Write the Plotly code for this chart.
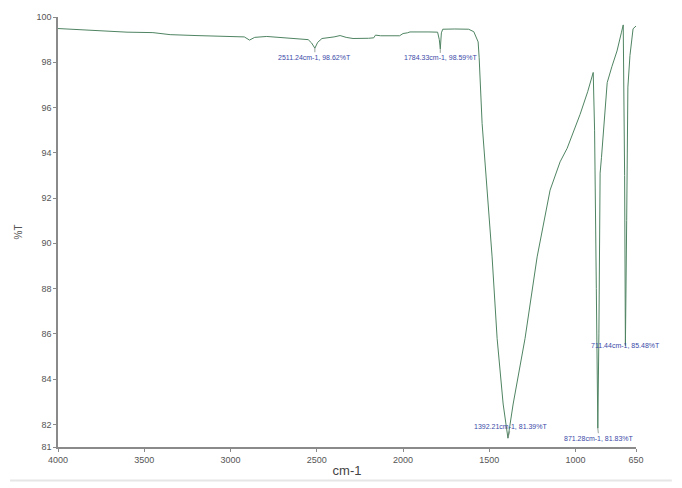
import plotly.graph_objects as go

# ---- data ----
wavenumber = [4000, 3900, 3800, 3700, 3600, 3450, 3350, 3200, 3000, 2920, 2890, 2860,
              2790, 2700, 2600, 2550, 2530, 2511.24, 2495, 2470, 2400, 2365, 2330, 2290,
              2200, 2170, 2160, 2130, 2020, 2000, 1975, 1960, 1850, 1800, 1790, 1784.33,
              1778, 1770, 1700, 1620, 1590, 1575, 1565, 1559, 1542, 1484, 1455, 1420,
              1392.21, 1362, 1293, 1223, 1148, 1090, 1049, 974, 930, 898, 890, 880,
              871.28, 865, 858, 850, 840, 830, 817, 790, 760, 735, 724, 716, 711.44,
              704, 697, 685, 667, 650]
transmittance = [99.49, 99.45, 99.38, 99.36, 99.33, 99.31, 99.22, 99.18, 99.15, 99.12, 98.98, 99.10,
                 99.14, 99.10, 99.05, 99.00, 98.85, 98.62, 98.88, 99.05, 99.12, 99.18, 99.10, 99.05,
                 99.06, 99.08, 99.20, 99.17, 99.17, 99.27, 99.30, 99.34, 99.34, 99.33, 99.00, 98.59,
                 99.30, 99.46, 99.47, 99.46, 99.35, 99.10, 98.90, 98.20, 95.30, 89.40, 85.80, 82.90,
                 81.39, 82.90, 85.80, 89.40, 92.35, 93.60, 94.20, 95.70, 96.70, 97.55, 95.00, 88.00,
                 81.83, 86.00, 93.10, 93.80, 94.80, 96.00, 97.10, 97.80, 98.50, 99.30, 99.65, 93.00, 85.48,
                 91.00, 96.90, 98.30, 99.48, 99.60]

peak_wn = [2511.24, 1784.33, 1392.21, 871.28, 711.44]
peak_t = [98.62, 98.59, 81.39, 81.83, 85.48]

x_ticks = [4000, 3500, 3000, 2500, 2000, 1500, 1000, 650]
y_ticks = [81, 82, 84, 86, 88, 90, 92, 94, 96, 98, 100]

# ---- layout styling (label offsets in px) ----
label_ax = [0, 0, 3, 1, 0]
label_ay = [9, 9, -12, 10, 0]

line_color = "#4f8462"
axis_color = "#8a8a8a"
tick_font = dict(family="Liberation Sans Narrow, Arial Narrow, Liberation Sans, sans-serif",
                 size=9, color="#555555")

fig = go.Figure()
fig.add_trace(go.Scatter(x=wavenumber, y=transmittance, mode="lines",
                         line=dict(color=line_color, width=1), hoverinfo="skip",
                         showlegend=False))

for w, t, ax, ay in zip(peak_wn, peak_t, label_ax, label_ay):
    wt = f"{w:.2f}".rstrip("0").rstrip(".") if False else f"{w:.2f}"
    fig.add_annotation(x=w, y=t, xref="x", yref="y",
                       text=f"{wt}cm-1, {t:.2f}%T",
                       showarrow=(ay != 0), arrowhead=0, arrowwidth=0.8,
                       arrowcolor="#7a8a80", ax=ax, ay=ay,
                       font=dict(family="Liberation Sans Narrow, Arial Narrow, sans-serif",
                                 size=7, color="#3b4aa8"))

fig.add_shape(type="line", xref="paper", yref="paper", x0=-0.083, x1=1.062,
              y0=-0.078, y1=-0.078, line=dict(color="#e6e6e6", width=2))

fig.update_layout(
    width=682, height=488,
    margin=dict(l=58, r=46, t=15, b=37),
    plot_bgcolor="white", paper_bgcolor="white",
    xaxis=dict(range=[4000, 650], tickvals=x_ticks, ticktext=[str(v) for v in x_ticks],
               showgrid=False, zeroline=False, showline=True, linecolor=axis_color,
               linewidth=1.5, ticks="outside", ticklen=3, tickcolor=axis_color,
               tickfont=tick_font,
               title=dict(text="cm-1", standoff=2,
                          font=dict(family="Liberation Sans Narrow, Arial Narrow, sans-serif",
                                    size=13, color="#444444"))),
    yaxis=dict(range=[81, 100], tickvals=y_ticks, ticktext=[str(v) for v in y_ticks],
               showgrid=False, zeroline=False, showline=True, linecolor=axis_color,
               linewidth=1.5, ticks="outside", ticklen=3, tickcolor=axis_color,
               tickfont=tick_font,
               title=dict(text="%T", standoff=12,
                          font=dict(family="Liberation Sans Narrow, Arial Narrow, sans-serif",
                                    size=10, color="#555555"))),
)

fig.write_html("out.html")
